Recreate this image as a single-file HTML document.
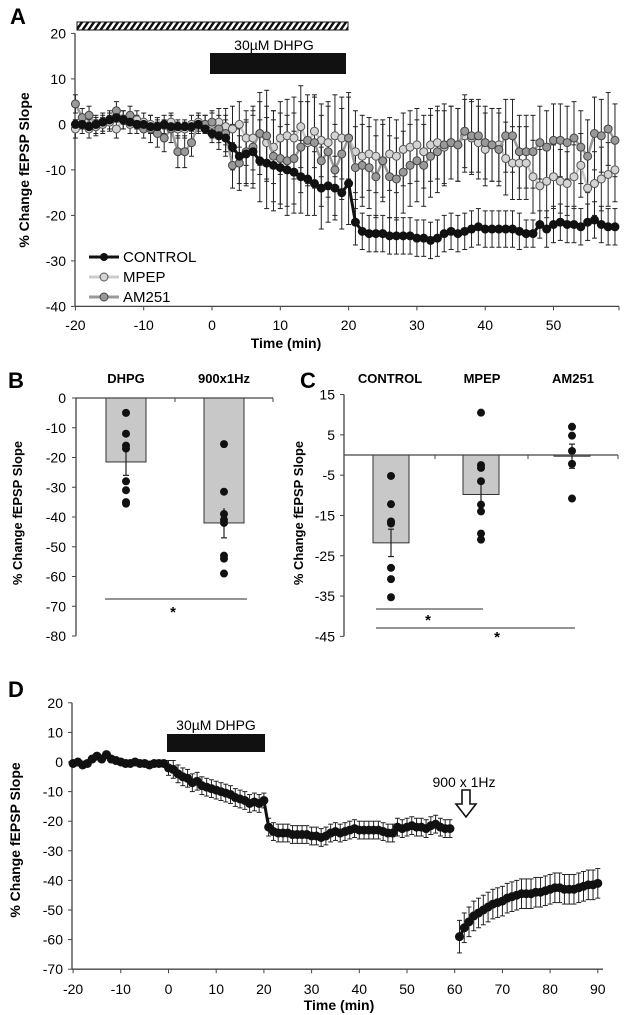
<!DOCTYPE html>
<html><head><meta charset="utf-8">
<style>
html,body{margin:0;padding:0;background:#fff;}
svg{display:block;font-family:"Liberation Sans",Arial,sans-serif;}
</style></head>
<body>
<svg id="fig" width="634" height="1015" viewBox="0 0 634 1015">
<rect width="634" height="1015" fill="#fff"/>
<defs>
<pattern id="hatch" patternUnits="userSpaceOnUse" width="6" height="8" patternTransform="skewX(-35)">
<rect width="6" height="8" fill="#fff"/><rect width="3" height="8" fill="#111"/>
</pattern>
</defs>
<g>
<text x="10" y="24" font-size="22" font-weight="bold">A</text>
<rect x="77" y="22" width="271" height="8" fill="url(#hatch)" stroke="#111" stroke-width="1"/>
<rect x="210" y="53" width="136" height="21" fill="#111"/>
<text x="274" y="50" font-size="14" text-anchor="middle">30µM DHPG</text>
<text transform="translate(29,170) rotate(-90)" font-size="14" font-weight="bold" text-anchor="middle">% Change fEPSP  Slope</text>
<text x="286" y="348" font-size="14" font-weight="bold" text-anchor="middle">Time (min)</text>
<g id="gA"></g>
<g>
<line x1="89" y1="257" x2="119" y2="257" stroke="#111" stroke-width="3"/><circle cx="104" cy="257" r="4" fill="#111"/>
<text x="123" y="262" font-size="15">CONTROL</text>
<line x1="89" y1="277" x2="119" y2="277" stroke="#ccc" stroke-width="3"/><circle cx="104" cy="277" r="4" fill="#d4d4d4" stroke="#555" stroke-width="1"/>
<text x="123" y="282" font-size="15">MPEP</text>
<line x1="89" y1="297" x2="119" y2="297" stroke="#999" stroke-width="3"/><circle cx="104" cy="297" r="4" fill="#999" stroke="#444" stroke-width="1"/>
<text x="123" y="302" font-size="15">AM251</text>
</g>
</g>
<g>
<text x="8" y="388" font-size="22" font-weight="bold">B</text>
<text transform="translate(22,513) rotate(-90)" font-size="13" font-weight="bold" text-anchor="middle">% Change fEPSP Slope</text>
<g id="gB"></g>
</g>
<g>
<text x="300" y="388" font-size="22" font-weight="bold">C</text>
<text transform="translate(303,513) rotate(-90)" font-size="13" font-weight="bold" text-anchor="middle">% Change fEPSP Slope</text>
<g id="gC"></g>
</g>
<g>
<text x="8" y="697" font-size="22" font-weight="bold">D</text>
<rect x="167" y="734" width="98" height="18" fill="#111"/>
<text x="216" y="730" font-size="14" text-anchor="middle">30µM DHPG</text>
<text x="464" y="787" font-size="14" text-anchor="middle">900 x 1Hz</text>
<path d="M462,790 h8 v14 h6 l-10,13 l-10,-13 h6 z" fill="#fff" stroke="#111" stroke-width="1.6"/>
<text transform="translate(20,840) rotate(-90)" font-size="14" font-weight="bold" text-anchor="middle">% Change fEPSP Slope</text>
<text x="339" y="1010" font-size="14" font-weight="bold" text-anchor="middle">Time (min)</text>
<g id="gD"></g>
</g>
</svg>
<script>
// ---------- Panel A data ----------
const timesA = [-20,-19,-18,-17,-16,-15,-14,-13,-12,-11,-10,-9,-8,-7,-6,-5,-4,-3,-2,-1,0,1,2,3,4,5,6,7,8,9,10,11,12,13,14,15,16,17,18,19,20,21,22,23,24,25,26,27,28,29,30,31,32,33,34,35,36,37,38,39,40,41,42,43,44,45,46,47,48,49,50,51,52,53,54,55,56,57,58,59];
const controlA = [0,0,-0.5,0,0.5,1,1.5,1,0.5,0,0,-0.5,-0.5,0,-0.5,-0.5,-0.5,-0.5,0,-1,-2,-2.5,-3,-5,-7,-6.5,-6,-8,-8.5,-9,-9.5,-10,-10.5,-11.5,-12,-13,-14,-13.5,-14,-15,-13,-21.5,-23.5,-24,-24,-24,-24.5,-24.5,-24.5,-24.5,-25,-25,-25.5,-25,-24,-23.5,-24,-23.5,-23,-22.5,-23,-23,-23,-23,-23,-23.5,-24,-24,-22,-23,-22,-21.5,-22,-22,-22.5,-21.5,-21,-22,-22.5,-22.5];
const controlErrA = [1,1,1,1,1,1,1,1,1,1,1,1,1,1,1,1,1,1,1,1,2,3,4,5,6,7,8,9,10,10,9,10,9,8,8,7,9,8,7,8,9,5,4,4,4,4,4,4,4,4,4,4,4,4,4,4,4,4,4,4,4,4,4,4,4,4,3,3,3,4,4,4,4,4,4,4,4,4,4,4];
const mpepA = [-1,0,-1,-0.5,0,0.5,-1,1,0,1,0.5,0,-0.5,0,0.5,-1,-1,0,0.5,0,0,0.5,-0.5,-1,0,-3,-3,-2,-4,-5,-3,-2.5,-3,-0.5,-4,-1.5,-3.5,-4,-2.5,-3,-3,-6,-7,-6.5,-7,-8,-6.5,-7,-5.5,-5,-4.5,-6,-4.5,-4,-5,-4,-4.5,-2.5,-3,-4,-5.5,-4.5,-4.5,-7.5,-8.5,-8.5,-8.5,-11.5,-13.5,-12.5,-11.5,-12.5,-13,-11.5,-9,-14,-13,-12,-11,-10];
const mpepErrA = [2,2,2,2,2,2,2,2,2,2,2,2,2,2,2,2,2,2,2,2,3,3,4,5,5,6,7,7,8,8,8,8,9,9,9,8,8,9,9,9,9,9,9,8,8,8,8,8,8,8,8,8,8,8,8,8,8,8,8,8,8,8,8,8,8,8,8,8,8,8,7,7,7,7,7,7,7,7,7,7];
const am251A = [4.5,1.5,2,0,0.5,1,3,1,2,0,-1,-1,-2,-3,-1,-6,-6,-4,0,0,0.5,-1,-2,-9,-8.5,-6,-5,-2,-2.5,-7,-7.5,-8,-7.5,-5,-3.5,-4,-8,-6,-10,-6.5,-3,-9.5,-9,-9.5,-11.5,-8,-11.5,-12,-10.5,-9,-8,-9,-7,-6,-4.5,-4,-4.5,-1.5,-2.5,-2.5,-4,-4.5,-5.5,-2.5,-2.5,-6,-6,-6,-4,-5,-3.5,-3.5,-4,-3,-5,-7,-2,-2.5,-1,-3.5];
const am251ErrA = [2,2,2,2,2,2,2,2,2,2,2,3,3,3,3,3.5,3.5,3,2,2,2,3,4,5,6,7,8,9,10,10,10,10,10,10,10,10,10,10,10,10,10,9,9,9,9,9,9,9,9,9,9,9,9,9,9,8,8,8,8,8,8,8,8,8,8,8,8,8,8,8,8,8,8,8,8,8,8,8,8,8];
const yTicksA = [20,10,0,-10,-20,-30,-40];
const xTicksA = [-20,-10,0,10,20,30,40,50];

// ---------- Panel B data ----------
const catsB = ['DHPG','900x1Hz'];
const meansB = [-21.5,-42];
const semB = [4.5,5];
const pointsB = [[-5,-12,-16,-17,-28,-31,-35,-35.5],[-15.5,-31.5,-39,-41,-42,-53,-54,-59]];
const yTicksB = [0,-10,-20,-30,-40,-50,-60,-70,-80];

// ---------- Panel C data ----------
const catsC = ['CONTROL','MPEP','AM251'];
const meansC = [-21.8,-9.8,-0.3];
const semC = [3.4,3,3];
const pointsC = [[-5.2,-12.2,-16.5,-17,-28,-30.8,-35.3],[10.5,-2.5,-3.2,-6.5,-12.3,-14,-19.5,-21],[7,4.8,1,-2.2,-10.8]];
const yTicksC = [15,5,-5,-15,-25,-35,-45];

// ---------- Panel D data ----------
const timesD1 = [-20,-19,-18,-17,-16,-15,-14,-13,-12,-11,-10,-9,-8,-7,-6,-5,-4,-3,-2,-1,0,1,2,3,4,5,6,7,8,9,10,11,12,13,14,15,16,17,18,19,20,21,22,23,24,25,26,27,28,29,30,31,32,33,34,35,36,37,38,39,40,41,42,43,44,45,46,47,48,49,50,51,52,53,54,55,56,57,58,59];
const valuesD1 = [-0.5,0,-1,-0.5,1,2,1,2.5,1,0.5,0,-0.5,-0.5,0,-0.5,-0.5,-1,-0.5,-0.5,-0.5,-2,-2.5,-4,-5,-5.5,-7,-6.5,-8,-8.5,-9,-9.5,-10,-10.5,-11,-12,-12.5,-13,-14,-13.5,-14,-13,-22,-23.5,-24,-24,-24,-24.5,-24.5,-24.5,-24.5,-25,-25,-25.5,-25,-24,-23.5,-24,-23.5,-23,-22.5,-23,-23,-23,-23,-23,-23.5,-24,-24,-22,-22.5,-22,-21.5,-22,-22,-22.5,-21.5,-21,-22,-22.5,-22.5];
const errD1 = [0.5,0.5,0.5,0.5,0.5,0.5,0.5,0.5,0.5,0.5,0.5,0.5,0.5,0.5,0.5,0.5,0.5,0.5,0.5,0.5,2.5,3,3,3,3,3,3,3,3,3,3,3,3,3,3,3,3,3,3,3,2.5,3,3,3,3,3,3,3,3,3,3,3,3,3,3,3,3,3,3,3,3,3,3,3,3,3,3,3,3,3,3,3,3,3,3,3,3,3,3,3];
const timesD2 = [61,62,63,64,65,66,67,68,69,70,71,72,73,74,75,76,77,78,79,80,81,82,83,84,85,86,87,88,89,90];
const valuesD2 = [-59,-56,-54,-52,-51,-50,-49,-48,-47.5,-47,-46,-45.5,-45,-44.5,-44.5,-44.5,-44,-44,-43.5,-43,-42.5,-42.5,-43,-43,-43,-42.5,-42,-41.5,-41.5,-41];
const errD2 = [5.5,5,5,5,5,5,5,5,5,5,5,5,5,5,5,5,5,5,5,5,5,5,5,5,5,5,5,5,5,5];
const yTicksD = [20,10,0,-10,-20,-30,-40,-50,-60,-70];
const xTicksD = [-20,-10,0,10,20,30,40,50,60,70,80,90];

const NS = 'http://www.w3.org/2000/svg';
function mk(parent, tag, attrs){ const e=document.createElementNS(NS,tag); for(const k in attrs) e.setAttribute(k,attrs[k]); parent.appendChild(e); return e; }
const AX = '#444';

// ---------- Panel A ----------
(function(){
  const g=document.getElementById('gA');
  const xA=t=>212+(t)*6.83, yA=v=>124.4-v*4.55;
  let e=mk(g,'line',{x1:75,y1:yA(20),x2:75,y2:yA(-40),stroke:AX,'stroke-width':1.3});
   
  e=mk(g,'line',{x1:75,y1:yA(-40),x2:619,y2:yA(-40),stroke:AX,'stroke-width':1.3});
   
  yTicksA.forEach(v=>{
    mk(g,'line',{x1:71,y1:yA(v),x2:75,y2:yA(v),stroke:AX});
    const t=mk(g,'text',{x:66,y:yA(v)+5,'font-size':14,'text-anchor':'end'}); t.textContent=v;
     
  });
  xTicksA.concat([60]).forEach(v=>{ const x=v===60?619:xA(v); mk(g,'line',{x1:x,y1:yA(-40),x2:x,y2:yA(-40)+4,stroke:AX}); });
  xTicksA.forEach(v=>{
    const t=mk(g,'text',{x:xA(v),y:330,'font-size':14,'text-anchor':'middle'}); t.textContent=v;
     
  });
  function errs(vals,errsArr,name){
    const gg=mk(g,'g',{});
     
    vals.forEach((v,i)=>{ const x=xA(timesA[i]);
      mk(gg,'line',{x1:x,y1:yA(v-errsArr[i]),x2:x,y2:yA(v+errsArr[i]),stroke:'#222','stroke-width':1});
      mk(gg,'line',{x1:x-2.5,y1:yA(v+errsArr[i]),x2:x+2.5,y2:yA(v+errsArr[i]),stroke:'#222','stroke-width':1});
      mk(gg,'line',{x1:x-2.5,y1:yA(v-errsArr[i]),x2:x+2.5,y2:yA(v-errsArr[i]),stroke:'#222','stroke-width':1});
    });
  }
  errs(mpepA,mpepErrA,'error-bars-mpep');
  errs(am251A,am251ErrA,'error-bars-am251');
  errs(controlA,controlErrA,'error-bars-control');
  function series(vals,line,lw,fill,stroke,name){
    const gg=mk(g,'g',{});
     
    mk(gg,'polyline',{points:vals.map((v,i)=>xA(timesA[i])+','+yA(v)).join(' '),fill:'none',stroke:line,'stroke-width':lw});
    vals.forEach((v,i)=>{ mk(gg,'circle',{cx:xA(timesA[i]),cy:yA(v),r:4,fill:fill,stroke:stroke,'stroke-width':1}); });
  }
  series(mpepA,'#c8c8c8',2.5,'#d4d4d4','#555','series-mpep');
  series(am251A,'#999',2.5,'#999','#444','series-am251');
  series(controlA,'#111',3,'#111','#111','series-control');
})();

// ---------- Panel B ----------
(function(){
  const g=document.getElementById('gB');
  const yB=v=>398-v*2.975;
  const barX=[106,204], bw=40;
  let e=mk(g,'line',{x1:76,y1:yB(0),x2:76,y2:yB(-80),stroke:AX,'stroke-width':1.3});
   
  yTicksB.forEach(v=>{
    mk(g,'line',{x1:72,y1:yB(v),x2:76,y2:yB(v),stroke:AX});
    const t=mk(g,'text',{x:66,y:yB(v)+5,'font-size':14,'text-anchor':'end'}); t.textContent=v;
     
  });
  catsB.forEach((c,i)=>{
    const r=mk(g,'rect',{x:barX[i],y:yB(0),width:bw,height:yB(meansB[i])-yB(0),fill:'#c8c8c8',stroke:'#333','stroke-width':1});
     
    const cx=barX[i]+bw/2;
    mk(g,'line',{x1:cx,y1:yB(meansB[i]+semB[i]),x2:cx,y2:yB(meansB[i]-semB[i]),stroke:'#222','stroke-width':1.2});
    mk(g,'line',{x1:cx-3,y1:yB(meansB[i]-semB[i]),x2:cx+3,y2:yB(meansB[i]-semB[i]),stroke:'#222','stroke-width':1.2});
    pointsB[i].forEach(p=>{ const d=mk(g,'circle',{cx:cx,cy:yB(p),r:4,fill:'#111'});
        });
    const t=mk(g,'text',{x:cx,y:383,'font-size':13,'font-weight':'bold','text-anchor':'middle'}); t.textContent=c;
     
  });
  e=mk(g,'line',{x1:76,y1:yB(0),x2:273,y2:yB(0),stroke:AX,'stroke-width':1.3});
   
  [175,273].forEach(x=>mk(g,'line',{x1:x,y1:yB(0),x2:x,y2:yB(0)+4,stroke:AX}));
  e=mk(g,'line',{x1:105,y1:599,x2:247,y2:599,stroke:'#555','stroke-width':1.2});
   
  const s=mk(g,'text',{x:173,y:617,'font-size':15,'font-weight':'bold','text-anchor':'middle'}); s.textContent='*';
   
})();

// ---------- Panel C ----------
(function(){
  const g=document.getElementById('gC');
  const yC=v=>455-v*4.03;
  const barX=[373,463,554], bw=36;
  let e=mk(g,'line',{x1:344,y1:yC(15),x2:344,y2:yC(-45),stroke:AX,'stroke-width':1.3});
   
  yTicksC.forEach(v=>{
    mk(g,'line',{x1:340,y1:yC(v),x2:344,y2:yC(v),stroke:AX});
    const t=mk(g,'text',{x:335,y:yC(v)+5,'font-size':14,'text-anchor':'end'}); t.textContent=v;
     
  });
  catsC.forEach((c,i)=>{
    const r=mk(g,'rect',{x:barX[i],y:Math.min(yC(0),yC(meansC[i])),width:bw,height:Math.abs(yC(meansC[i])-yC(0)),fill:'#c8c8c8',stroke:'#333','stroke-width':1});
     
    const cx=barX[i]+bw/2;
    mk(g,'line',{x1:cx,y1:yC(meansC[i]+semC[i]),x2:cx,y2:yC(meansC[i]-semC[i]),stroke:'#222','stroke-width':1.2});
    mk(g,'line',{x1:cx-3,y1:yC(meansC[i]-semC[i]),x2:cx+3,y2:yC(meansC[i]-semC[i]),stroke:'#222','stroke-width':1.2});
    mk(g,'line',{x1:cx-3,y1:yC(meansC[i]+semC[i]),x2:cx+3,y2:yC(meansC[i]+semC[i]),stroke:'#222','stroke-width':1.2});
    pointsC[i].forEach(p=>{ const d=mk(g,'circle',{cx:cx,cy:yC(p),r:4,fill:'#111'});
        });
    const t=mk(g,'text',{x:[390,482,573][i],y:383,'font-size':13,'font-weight':'bold','text-anchor':'middle'}); t.textContent=c;
     
  });
  e=mk(g,'line',{x1:344,y1:yC(0),x2:618,y2:yC(0),stroke:AX,'stroke-width':1.3});
   
  [435,528,618].forEach(x=>mk(g,'line',{x1:x,y1:yC(0),x2:x,y2:yC(0)+4,stroke:AX}));
  e=mk(g,'line',{x1:376,y1:609,x2:483,y2:609,stroke:'#555','stroke-width':1.2});
   
  e=mk(g,'line',{x1:376,y1:628,x2:575,y2:628,stroke:'#555','stroke-width':1.2});
   
  let s=mk(g,'text',{x:428,y:625,'font-size':15,'font-weight':'bold','text-anchor':'middle'}); s.textContent='*';
   
  s=mk(g,'text',{x:497,y:642,'font-size':15,'font-weight':'bold','text-anchor':'middle'}); s.textContent='*';
   
})();

// ---------- Panel D ----------
(function(){
  const g=document.getElementById('gD');
  const xD=t=>168.5+t*4.77, yD=v=>762-v*2.96;
  let e=mk(g,'line',{x1:72,y1:yD(20),x2:72,y2:yD(-70),stroke:AX,'stroke-width':1.3});
   
  e=mk(g,'line',{x1:72,y1:yD(-70),x2:603,y2:yD(-70),stroke:AX,'stroke-width':1.3});
   
  yTicksD.forEach(v=>{
    mk(g,'line',{x1:68,y1:yD(v),x2:72,y2:yD(v),stroke:AX});
    const t=mk(g,'text',{x:63,y:yD(v)+5,'font-size':14,'text-anchor':'end'}); t.textContent=v;
     
  });
  xTicksD.forEach(v=>{
    mk(g,'line',{x1:xD(v),y1:yD(-70),x2:xD(v),y2:yD(-70)+4,stroke:AX});
    const t=mk(g,'text',{x:xD(v),y:994,'font-size':14,'text-anchor':'middle'}); t.textContent=v;
     
  });
  function seg(ts,vals,er,name){
    const gg=mk(g,'g',{});
     
    vals.forEach((v,i)=>{ const x=xD(ts[i]);
      mk(gg,'line',{x1:x,y1:yD(v-er[i]),x2:x,y2:yD(v+er[i]),stroke:'#222','stroke-width':1});
      mk(gg,'line',{x1:x-2.5,y1:yD(v+er[i]),x2:x+2.5,y2:yD(v+er[i]),stroke:'#222','stroke-width':1});
      mk(gg,'line',{x1:x-2.5,y1:yD(v-er[i]),x2:x+2.5,y2:yD(v-er[i]),stroke:'#222','stroke-width':1});
    });
    mk(gg,'polyline',{points:vals.map((v,i)=>xD(ts[i])+','+yD(v)).join(' '),fill:'none',stroke:'#111','stroke-width':3});
    vals.forEach((v,i)=>mk(gg,'circle',{cx:xD(ts[i]),cy:yD(v),r:4.5,fill:'#111'}));
  }
  seg(timesD1,valuesD1,errD1,'series-dhpg');
  seg(timesD2,valuesD2,errD2,'series-post-stim');
})();
</script>
</body></html>
